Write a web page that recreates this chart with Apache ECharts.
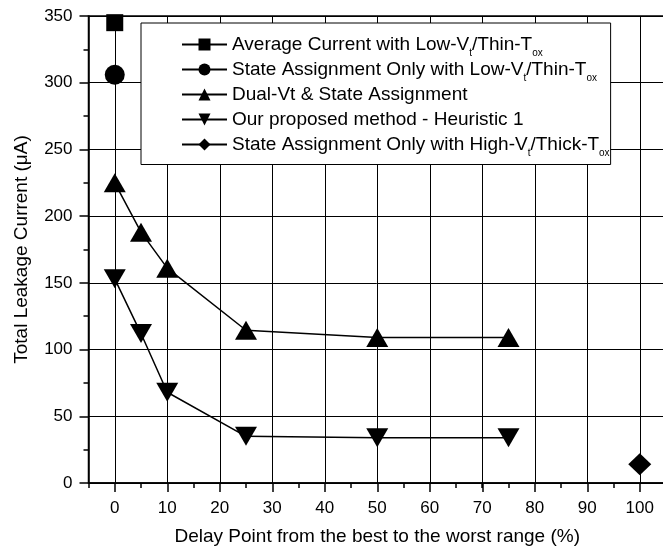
<!DOCTYPE html>
<html>
<head>
<meta charset="utf-8">
<script src="https://cdn.jsdelivr.net/npm/echarts@6/dist/echarts.min.js"></script>
<style>
  html, body { margin: 0; padding: 0; background: #fff; }
  #chart { width: 663px; height: 554px; }
</style>
</head>
<body>
<div id="chart"></div>
<script>
// 数据
const xTicks = [0, 10, 20, 30, 40, 50, 60, 70, 80, 90, 100];
const yTicks = [0, 50, 100, 150, 200, 250, 300, 350];

const avgX = [0];
const avgY = [345];
const stateLowX = [0];
const stateLowY = [306];
const dualX = [0, 5, 10, 25, 50, 75];
const dualY = [225, 188, 161, 114.5, 109, 109];
const heurX = [0, 5, 10, 25, 50, 75];
const heurY = [153, 112, 68, 35, 34, 34];
const stateHighX = [100];
const stateHighY = [14];

const seriesNames = [
  'Average Current with Low-Vt/Thin-Tox',
  'State Assignment Only with Low-Vt/Thin-Tox',
  'Dual-Vt & State Assignment',
  'Our proposed method - Heuristic 1',
  'State Assignment Only with High-Vt/Thick-Tox'
];
// 图例里的下标（每行都带一个 s，行高才一致）
const legendRich = {
  'Average Current with Low-Vt/Thin-Tox': '{n|Average Current with Low-V}{s|t}{n|/Thin-T}{s|ox}',
  'State Assignment Only with Low-Vt/Thin-Tox': '{n|State Assignment Only with Low-V}{s|t}{n|/Thin-T}{s|ox}',
  'Dual-Vt & State Assignment': '{n|Dual-Vt & State Assignment}{s| }',
  'Our proposed method - Heuristic 1': '{n|Our proposed method - Heuristic 1}{s| }',
  'State Assignment Only with High-Vt/Thick-Tox': '{n|State Assignment Only with High-V}{s|t}{n|/Thick-T}{s|ox}'
};

const FONT = '"Liberation Sans", Arial, Helvetica, sans-serif';
const PX = 5.25; // px per x unit
const G1_LEFT = 88.5;
const G1_RIGHT = 663 - (G1_LEFT + 110 * PX);
const G2_LEFT = G1_LEFT + 5 * PX;
const G2_RIGHT = 663 - (G2_LEFT + 100 * PX);

function pairs(xs, ys) {
  return xs.map((x, i) => [x, ys[i]]);
}

function lineSeries(name, xs, ys, symbol, size, rotate) {
  return {
    name: name,
    type: 'line',
    xAxisIndex: 0,
    yAxisIndex: 0,
    data: pairs(xs, ys),
    symbol: symbol,
    symbolSize: size,
    symbolRotate: rotate || 0,
    showSymbol: true,
    clip: false,
    animation: false,
    lineStyle: { color: '#000', width: 1.5 },
    itemStyle: { color: '#000' },
    emphasis: { disabled: true }
  };
}

const chart = echarts.init(document.getElementById('chart'));
const option = {
  backgroundColor: '#fff',
  animation: false,
  grid: [
    { left: G1_LEFT, right: G1_RIGHT, top: 16, bottom: 71, outerBoundsMode: 'none', containLabel: false,
      show: true, borderColor: '#000', borderWidth: 1.5, backgroundColor: 'transparent' },
    { left: G2_LEFT, right: G2_RIGHT, top: 16, bottom: 71, outerBoundsMode: 'none', containLabel: false }
  ],
  legend: {
    orient: 'vertical',
    left: 141,
    top: 23,
    data: seriesNames,
    itemWidth: 45,
    itemHeight: 15,
    itemGap: 1.5,
    padding: [12, 1, 6, 40],
    backgroundColor: '#fff',
    borderColor: '#000',
    borderWidth: 1,
    borderRadius: 0,
    selectedMode: false,
    lineStyle: { width: 2 },
    formatter: (name) => legendRich[name],
    textStyle: {
      color: '#000',
      fontFamily: FONT,
      fontSize: 19,
      rich: {
        n: { fontSize: 19, fontFamily: FONT, color: '#000' },
        s: { fontSize: 10, padding: [18, 0, 0, 0], fontFamily: FONT, color: '#000' }
      }
    }
  },
  xAxis: [
    {
      gridIndex: 0,
      type: 'value',
      min: -5,
      max: 105,
      interval: 5,
      name: 'Delay Point from the best to the worst range (%)',
      nameLocation: 'middle',
      nameGap: 44,
      nameTextStyle: { color: '#000', fontFamily: FONT, fontSize: 19 },
      axisLine: { onZero: false, lineStyle: { color: '#000', width: 1.5 } },
      axisTick: { length: 5, lineStyle: { color: '#000', width: 1.5 } },
      axisLabel: { show: false },
      splitLine: { show: false }
    },
    {
      gridIndex: 1,
      type: 'value',
      min: 0,
      max: 100,
      interval: 10,
      axisLine: { show: false, onZero: false },
      axisTick: { show: true, length: 9, lineStyle: { color: '#000', width: 1.5 } },
      axisLabel: { color: '#000', fontFamily: FONT, fontSize: 17, margin: 17,
        customValues: xTicks },
      splitLine: { show: true, lineStyle: { color: '#000', width: 1 } }
    }
  ],
  yAxis: [
    {
      gridIndex: 0,
      type: 'value',
      min: 0,
      max: 350,
      interval: 50,
      name: 'Total Leakage Current (\u03bcA)',
      nameLocation: 'middle',
      nameGap: 57,
      nameTextStyle: { color: '#000', fontFamily: FONT, fontSize: 19 },
      axisLine: { show: true, onZero: false, lineStyle: { color: '#000', width: 1.5 } },
      axisTick: { show: true, length: 9, lineStyle: { color: '#000', width: 1.5 } },
      minorTick: { show: true, splitNumber: 2, length: 5, lineStyle: { color: '#000', width: 1.5 } },
      axisLabel: { color: '#000', fontFamily: FONT, fontSize: 17, margin: 16,
        customValues: yTicks },
      splitLine: { show: true, lineStyle: { color: '#000', width: 1 } }
    },
    {
      gridIndex: 1,
      type: 'value',
      min: 0,
      max: 350,
      show: false
    }
  ],
  series: [
    lineSeries(seriesNames[0], avgX, avgY, 'rect', 17),
    lineSeries(seriesNames[1], stateLowX, stateLowY, 'circle', 20),
    lineSeries(seriesNames[2], dualX, dualY, 'triangle', [22, 19]),
    lineSeries(seriesNames[3], heurX, heurY, 'triangle', [22, 19], 180),
    lineSeries(seriesNames[4], stateHighX, stateHighY, 'diamond', [23, 22])
  ]
};
chart.setOption(option);
</script>
</body>
</html>
